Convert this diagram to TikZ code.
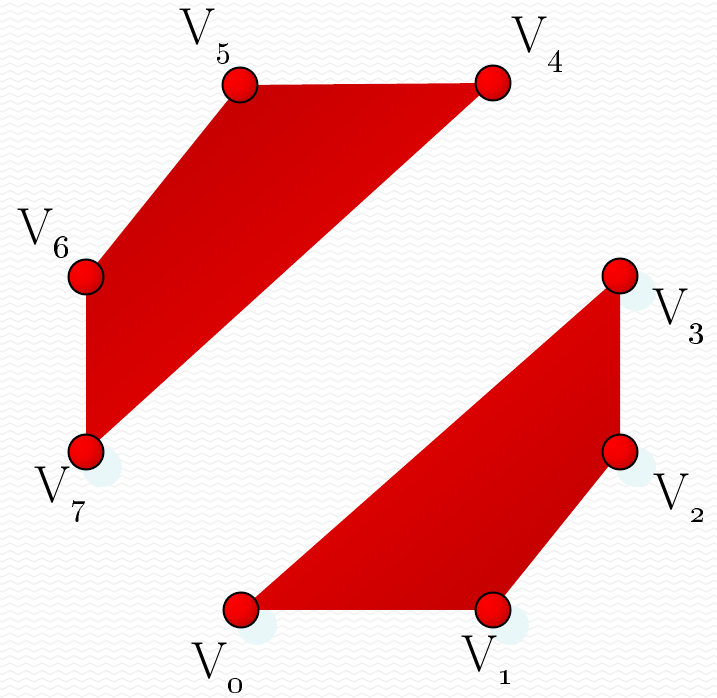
\documentclass[tikz,border=0pt]{standalone}
\usepackage{graphicx}
\usetikzlibrary{decorations.pathmorphing}
\definecolor{rdark}{HTML}{C40000}
\definecolor{rmid}{HTML}{E00000}
\definecolor{rbright}{HTML}{F00000}
\definecolor{shad}{HTML}{E9F7F9}
\definecolor{zz}{HTML}{F1F1F1}
\pgfdeclareradialshading{vball}{\pgfpoint{-12bp}{12bp}}{color(0bp)=(red); color(18bp)=(rbright); color(40bp)=(rdark!85!black); color(64bp)=(rdark!55!black)}
\newcommand\lowsub[1]{\raisebox{-13bp}{\scalebox{3.2}{\fontsize{10}{12}\selectfont\oldstylenums{#1}}}}
\begin{document}
\begin{tikzpicture}[x=1bp,y=1bp,
  ball/.style={circle, draw=black, line width=2bp, minimum size=35bp, inner sep=0pt, shade, shading=vball},
  shadowdot/.style={circle, fill=shad, minimum size=40bp, inner sep=0pt},
  lab/.style={anchor=base west, inner sep=0pt, font=\fontsize{52bp}{56bp}\selectfont},
  quadup/.style={top color=rdark, middle color=rmid, bottom color=rbright, shading angle=40},
  quaddown/.style={top color=rbright, middle color=rmid, bottom color=rdark, shading angle=40},
  bgzz/.style={draw=zz, line width=1.3bp, decorate, decoration={zigzag, segment length=16bp, amplitude=2bp}}]
\useasboundingbox (0,0) rectangle (717,698);
% background texture
\begin{scope}
  \clip (0,0) rectangle (717,698);
  \foreach \yy in {3,10.5,...,700} {
    \draw[bgzz] (-10,\yy) -- (730,\yy);
  }
\end{scope}
% vertex positions
\coordinate (v0) at (241,88);
\coordinate (v1) at (493,88);
\coordinate (v2) at (620,246);
\coordinate (v3) at (620,422);
\coordinate (v4) at (493,615);
\coordinate (v5) at (240,613);
\coordinate (v6) at (86,421);
\coordinate (v7) at (86,246);
% shadows
\foreach \k in {0,1,2,3,7} {
  \node[shadowdot] (s\k) at ([shift={(16,-15)}]v\k) {};
}
% faces
\shade[quadup] (v5) -- (v4) -- (v7) -- (v6) -- cycle;
\shade[quaddown] (v0) -- (v1) -- (v2) -- (v3) -- cycle;
% balls
\foreach \k in {0,...,7} {
  \node[ball] (b\k) at (v\k) {};
}
% labels
\node[lab] (l5) at (179,653) {V\lowsub{5}};
\node[lab] (l4) at (511,645) {V\lowsub{4}};
\node[lab] (l6) at (17,453) {V\lowsub{6}};
\node[lab] (l7) at (34,195) {V\lowsub{7}};
\node[lab] (l3) at (652,373) {V\lowsub{3}};
\node[lab] (l2) at (653,188) {V\lowsub{2}};
\node[lab] (l0) at (191,19) {V\lowsub{0}};
\node[lab] (l1) at (461,26) {V\lowsub{1}};
\end{tikzpicture}
\end{document}
